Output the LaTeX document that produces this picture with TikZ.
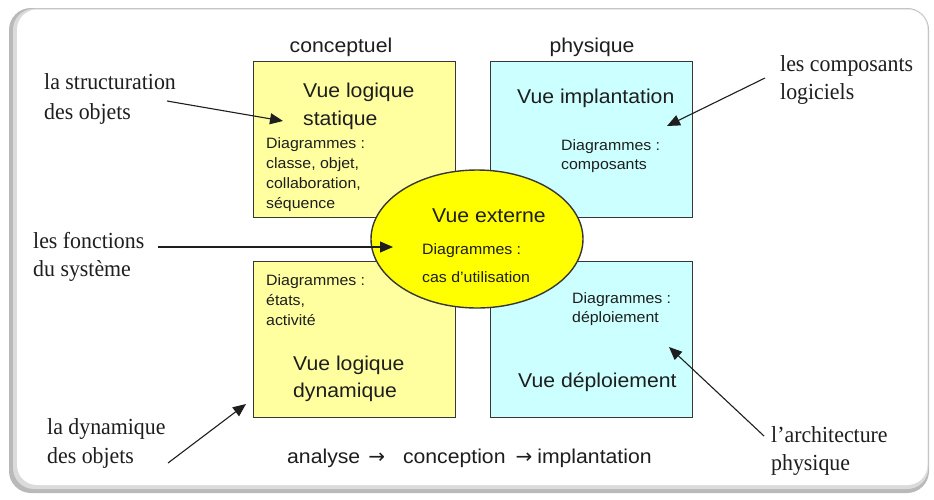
\documentclass[tikz,border=0pt]{standalone}
\usepackage{fontspec}
\setmainfont{Liberation Sans}[FakeStretch=1.06]
\newfontfamily\labfont{Liberation Serif}[FakeStretch=0.95]
\newfontfamily\symfont{DejaVu Sans}
\usetikzlibrary{arrows.meta,shapes.geometric}
\definecolor{paleyellow}{RGB}{255,255,160}
\definecolor{palecyan}{RGB}{204,255,255}
\definecolor{brightyellow}{RGB}{255,255,0}
\definecolor{edgegray}{RGB}{55,55,55}
\definecolor{inkgray}{RGB}{30,30,30}
\begin{document}
\begin{tikzpicture}[x=1pt,y=-1pt,
  viewbox/.style={draw=edgegray, line width=1.4pt, inner sep=0pt, anchor=north west,
                  minimum width=202pt, minimum height=156pt},
  title/.style={font=\fontsize{20}{24}\selectfont, inner sep=0pt, anchor=base west, text=inkgray},
  small/.style={font=\fontsize{15}{18}\selectfont, inner sep=0pt, anchor=base west, text=inkgray},
  side/.style={font=\labfont\fontsize{23}{27}\selectfont, inner sep=0pt, anchor=base west, text=inkgray},
  pointer/.style={draw=inkgray, line width=1.1pt, -{Triangle[length=13pt,width=11pt]}}]

\useasboundingbox (0,0) rectangle (934,499);
\fill[white] (0,0) rectangle (934,499);

% rounded frame with a soft bevel on the left and bottom
\fill[gray!55, rounded corners=22pt] (9,8) rectangle (929,493);
\fill[gray!28, rounded corners=21pt] (13,8.7) rectangle (928.3,489);
\fill[white, rounded corners=20pt] (17,9.5) rectangle (927.5,485);

% column headings
\node[title, anchor=base] (hconc) at (341,52) {conceptuel};
\node[title, anchor=base] (hphys) at (592,52) {physique};

% the four views
\node[viewbox, fill=paleyellow] (stat) at (253,61) {};
\node[viewbox, fill=palecyan]   (impl) at (490,61) {};
\node[viewbox, fill=paleyellow] (dyna) at (253,261) {};
\node[viewbox, fill=palecyan]   (depl) at (490,261) {};

% static logical view
\node[title] (statA) at (303,97)  {Vue logique};
\node[title] (statB) at (303,125) {statique};
\node[small] (statC) at (266,148) {Diagrammes :};
\node[small] (statD) at (266,168) {classe, objet,};
\node[small] (statE) at (266,188) {collaboration,};
\node[small] (statF) at (266,208) {séquence};

% implementation view
\node[title] (implA) at (517,103) {Vue implantation};
\node[small] (implB) at (561,150) {Diagrammes :};
\node[small] (implC) at (561,169) {composants};

% dynamic logical view
\node[small] (dynaA) at (266,285) {Diagrammes :};
\node[small] (dynaB) at (266,305) {états,};
\node[small] (dynaC) at (266,325) {activité};
\node[title] (dynaD) at (293,370) {Vue logique};
\node[title] (dynaE) at (293,397) {dynamique};

% deployment view
\node[small] (deplA) at (572,303) {Diagrammes :};
\node[small] (deplB) at (572,322) {déploiement};
\node[title] (deplC) at (518,387) {Vue déploiement};

% external view
\node[draw=edgegray, line width=1.4pt, fill=brightyellow, ellipse, inner sep=0pt,
      minimum width=212pt, minimum height=138pt] (ext) at (477,239) {};
\node[title] (extA) at (432,222) {Vue externe};
\node[small] (extB) at (422,254) {Diagrammes :};
\node[small] (extC) at (422,282) {cas d’utilisation};

% side labels
\node[side] (lstructA) at (44,89)  {la structuration};
\node[side] (lstructB) at (44,119) {des objets};
\node[side] (lfoncA)   at (33,248) {les fonctions};
\node[side] (lfoncB)   at (33,276) {du système};
\node[side] (ldynA)    at (47,434) {la dynamique};
\node[side] (ldynB)    at (47,463) {des objets};
\node[side] (lcompA)   at (780,71) {les composants};
\node[side] (lcompB)   at (780,99) {logiciels};
\node[side] (larchA)   at (771,442) {l’architecture};
\node[side] (larchB)   at (771,470) {physique};

% process line
\node[title] (process) at (287,463)
  {analyse\hspace{8pt}{\symfont →}\hspace{18pt}conception\hspace{10pt}{\symfont →}\hspace{5pt}implantation};

% pointer ends
\coordinate (pStructS) at (167,101);
\coordinate (pStructE) at (283,121);
\coordinate (pFoncS)   at (158,247);
\coordinate (pFoncE)   at (393,247);
\coordinate (pCompS)   at (765,78);
\coordinate (pCompE)   at (667,126);
\coordinate (pDynS)    at (168,463);
\coordinate (pDynE)    at (246,404);
\coordinate (pArchS)   at (764,436);
\coordinate (pArchE)   at (669,347);

\draw[pointer] (pStructS) -- (pStructE);
\draw[pointer] (pFoncS) -- (pFoncE);
\draw[pointer] (pCompS) -- (pCompE);
\draw[pointer] (pDynS) -- (pDynE);
\draw[pointer] (pArchS) -- (pArchE);
\end{tikzpicture}
\end{document}
